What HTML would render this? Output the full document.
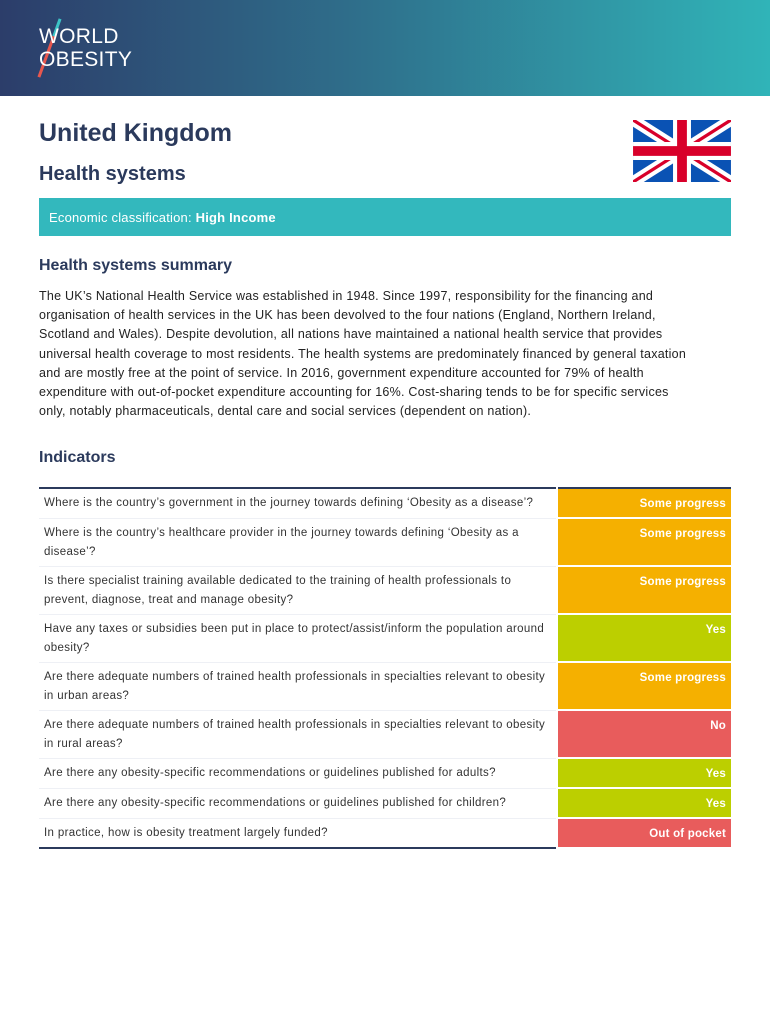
<!DOCTYPE html>
<html><head><meta charset="utf-8"><style>
*{margin:0;padding:0;box-sizing:border-box}
body{width:770px;height:1024px;background:#fff;font-family:"Liberation Sans",sans-serif;color:#222;position:relative;overflow:hidden}
.hdr{position:absolute;left:0;top:0;width:770px;height:96px;background:linear-gradient(90deg,#2c3d6a 0%,#2f6d8a 45%,#30b4b8 100%)}
.logo{position:absolute;left:39px;top:25px;color:#fff;font-size:21px;line-height:23px;letter-spacing:0.3px}
.slash{position:absolute;left:48px;top:17px;width:3px;height:62px;background:linear-gradient(#3cc3c6 0 30%,#e8574e 30%);transform:rotate(20deg)}
h1{position:absolute;left:39px;top:119px;font-size:25px;font-weight:bold;color:#2b3a5c}
h2{position:absolute;left:39px;top:163px;font-size:20px;font-weight:bold;color:#2b3a5c}
.flag{position:absolute;left:633px;top:120px}
.eco{position:absolute;left:39px;top:198px;width:692px;height:38px;background:#33b8bd;color:#fff;font-size:13px;padding:12px 10px;letter-spacing:0.2px}
h3{position:absolute;left:39px;font-size:16px;font-weight:bold;color:#2b3a5c}
.p{position:absolute;left:39px;top:287px;width:720px;font-size:12.5px;line-height:19.2px;color:#222;white-space:nowrap;letter-spacing:0.25px}
table{position:absolute;left:39px;top:487px;width:692px;table-layout:fixed;border-collapse:collapse;border-top:2px solid #2b3a5c;border-bottom:2px solid #2b3a5c;font-size:11.5px}
td{vertical-align:top;border-bottom:1px solid #eef0f5;line-height:19px;padding:5px 5px 3px;color:#333;white-space:nowrap;overflow:hidden;letter-spacing:0.35px}
td.s{text-align:right;color:#fff;font-weight:bold;border-bottom:2px solid #fff;border-left:2px solid #fff;padding-top:6px;letter-spacing:0.2px}
.o{background:#f5b000}.g{background:#bccf00}.r{background:#e85c5c}
</style></head><body>
<div class="hdr"><div class="slash"></div><div class="logo">WORLD<br>OBESITY</div></div>
<h1>United Kingdom</h1>
<h2>Health systems</h2>
<svg class="flag" width="98" height="62" viewBox="0 0 60 38"><rect width="60" height="38" fill="#0a52b4"/><path d="M0 0L60 38M60 0L0 38" stroke="#fff" stroke-width="7"/><path d="M0 0L60 38M60 0L0 38" stroke="#d8002a" stroke-width="2"/><path d="M30 0V38M0 19H60" stroke="#fff" stroke-width="11"/><path d="M30 0V38M0 19H60" stroke="#d8002a" stroke-width="6"/></svg>
<div class="eco">Economic classification: <span style="font-weight:bold">High Income</span></div>
<h3 style="top:257px">Health systems summary</h3>
<div class="p">The UK’s National Health Service was established in 1948. Since 1997, responsibility for the financing and<br>organisation of health services in the UK has been devolved to the four nations (England, Northern Ireland,<br>Scotland and Wales). Despite devolution, all nations have maintained a national health service that provides<br>universal health coverage to most residents. The health systems are predominately financed by general taxation<br>and are mostly free at the point of service. In 2016, government expenditure accounted for 79% of health<br>expenditure with out-of-pocket expenditure accounting for 16%. Cost-sharing tends to be for specific services<br>only, notably pharmaceuticals, dental care and social services (dependent on nation).</div>
<h3 style="top:449px">Indicators</h3>
<table>
<colgroup><col style="width:518px"><col style="width:174px"></colgroup>
<tr style="height:28px"><td>Where is the country’s government in the journey towards defining ‘Obesity as a disease’?</td><td class="s o">Some progress</td></tr>
<tr style="height:48px"><td>Where is the country’s healthcare provider in the journey towards defining ‘Obesity as a<br>disease’?</td><td class="s o">Some progress</td></tr>
<tr style="height:48px"><td>Is there specialist training available dedicated to the training of health professionals to<br>prevent, diagnose, treat and manage obesity?</td><td class="s o">Some progress</td></tr>
<tr style="height:48px"><td>Have any taxes or subsidies been put in place to protect/assist/inform the population around<br>obesity?</td><td class="s g">Yes</td></tr>
<tr style="height:48px"><td>Are there adequate numbers of trained health professionals in specialties relevant to obesity<br>in urban areas?</td><td class="s o">Some progress</td></tr>
<tr style="height:48px"><td>Are there adequate numbers of trained health professionals in specialties relevant to obesity<br>in rural areas?</td><td class="s r">No</td></tr>
<tr style="height:28px"><td>Are there any obesity-specific recommendations or guidelines published for adults?</td><td class="s g">Yes</td></tr>
<tr style="height:28px"><td>Are there any obesity-specific recommendations or guidelines published for children?</td><td class="s g">Yes</td></tr>
<tr style="height:28px"><td>In practice, how is obesity treatment largely funded?</td><td class="s r">Out of pocket</td></tr>
</table>
</body></html>
